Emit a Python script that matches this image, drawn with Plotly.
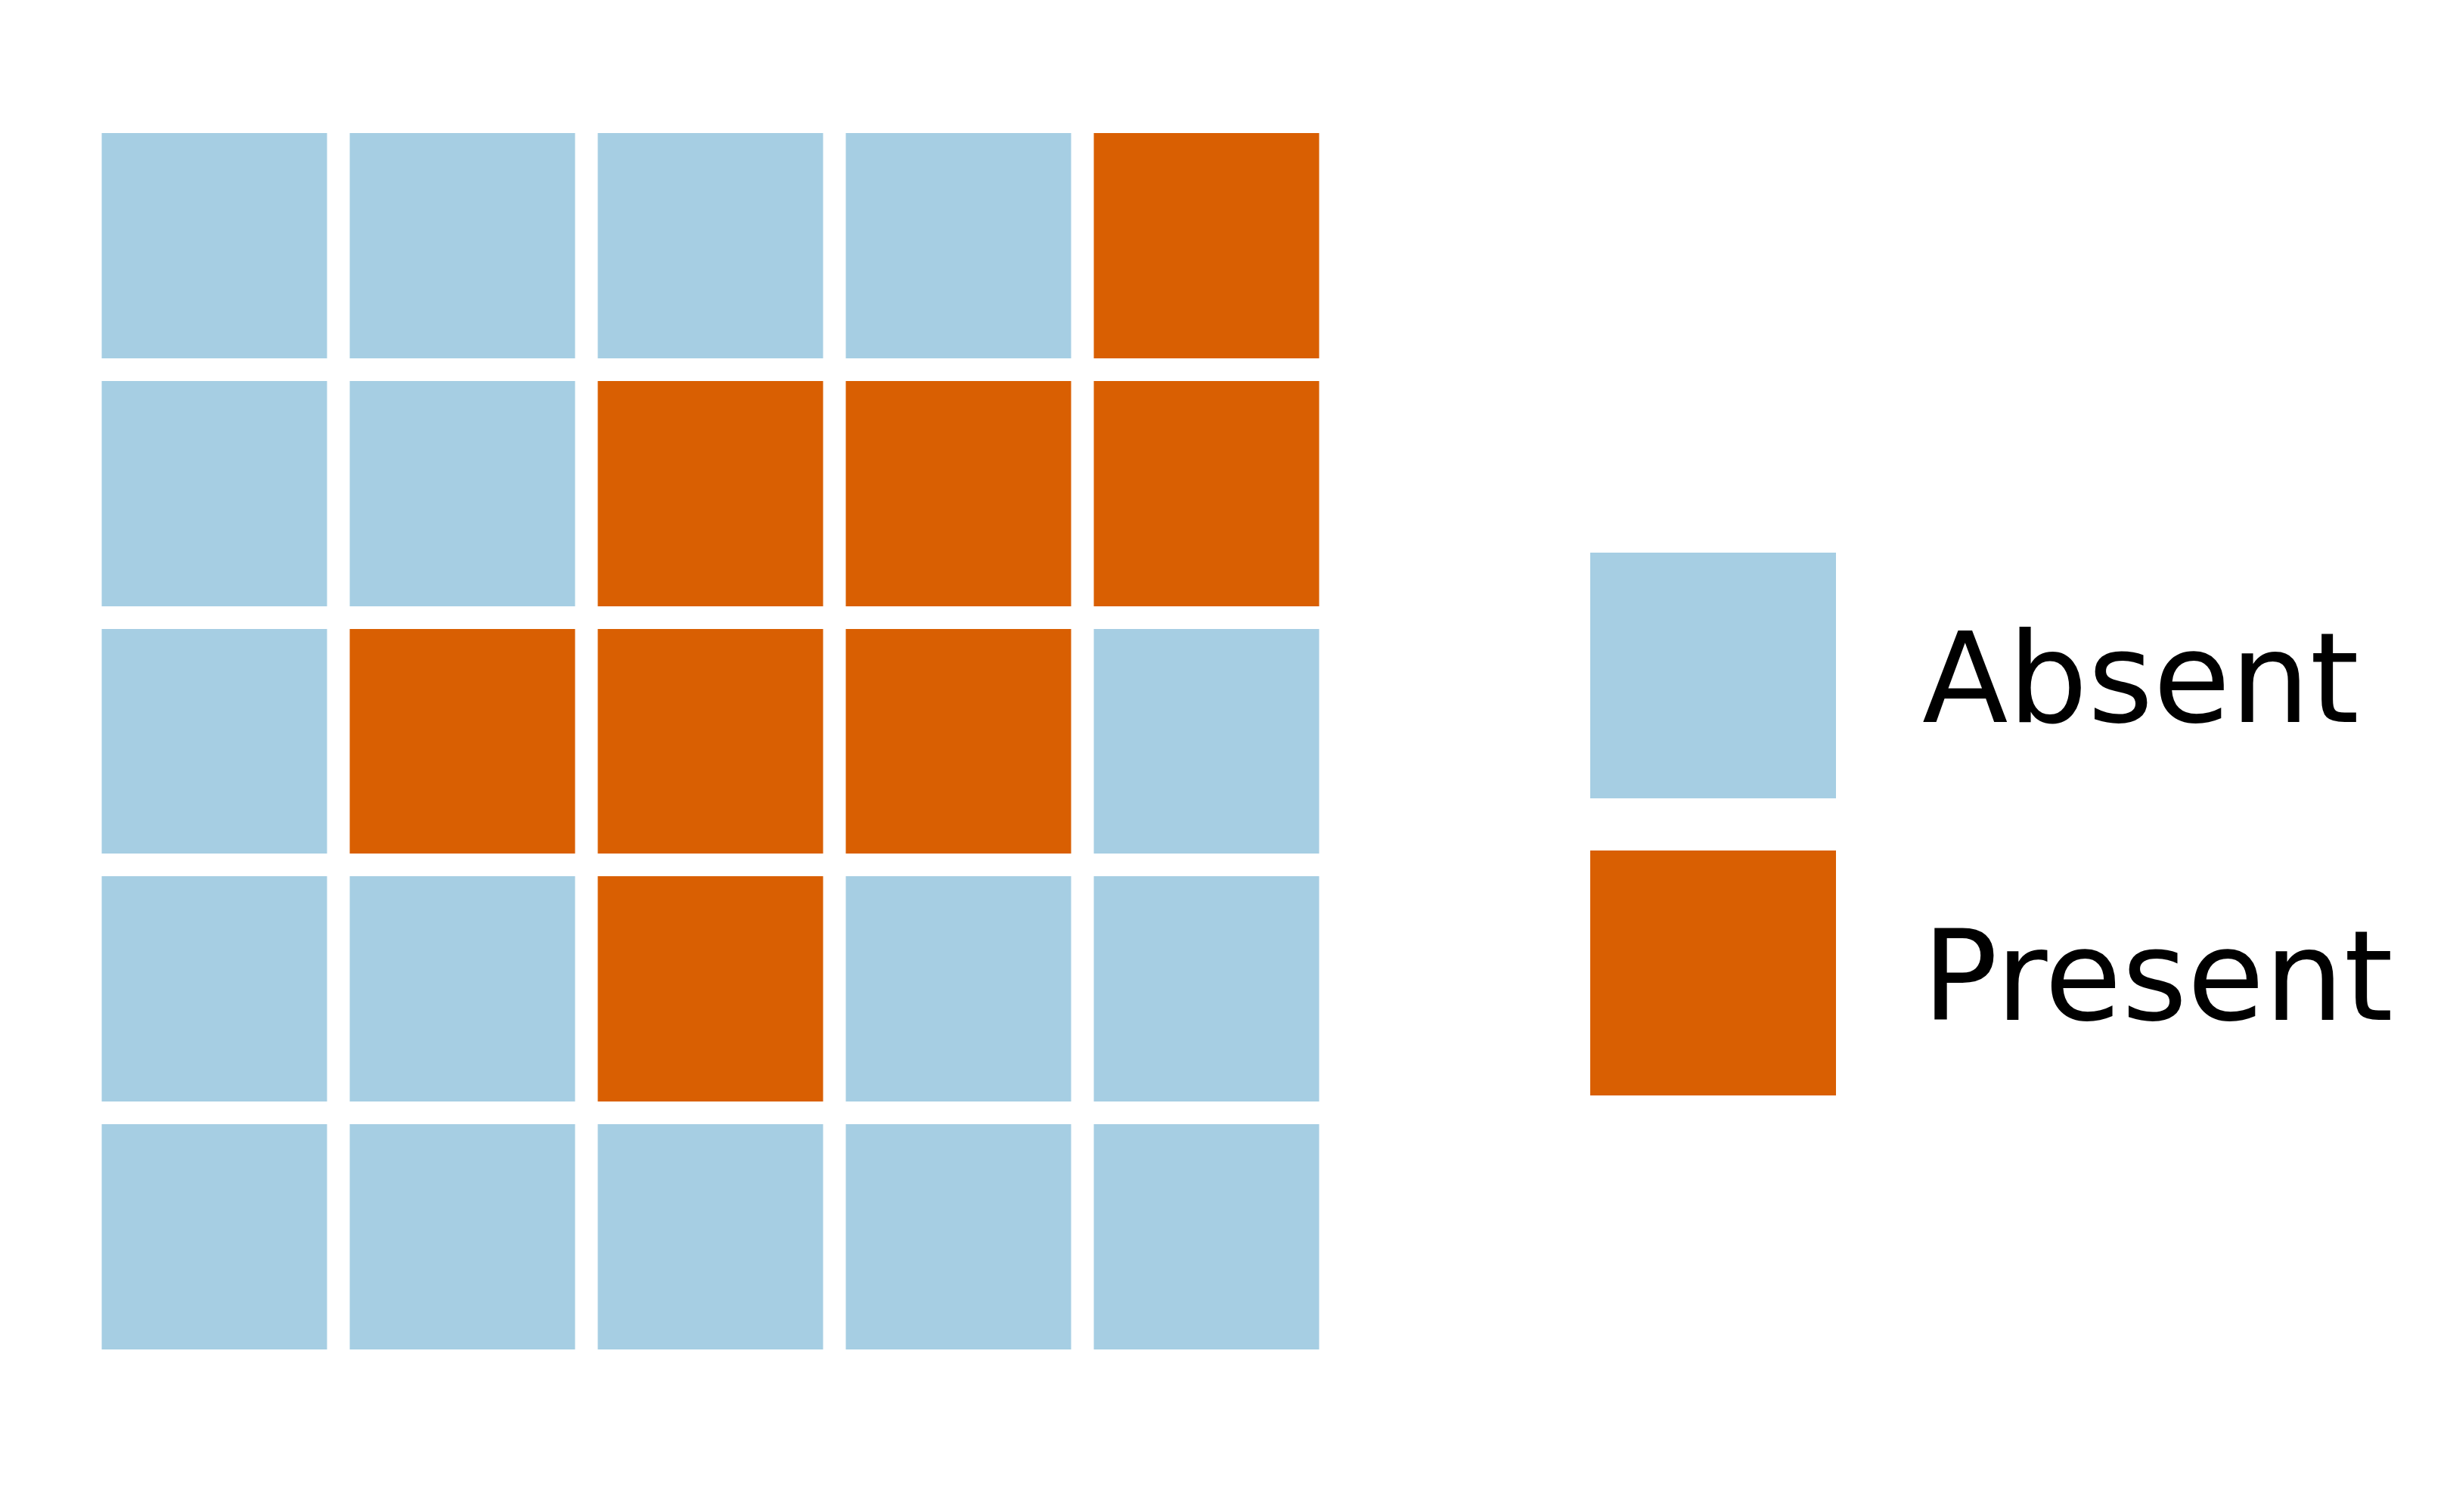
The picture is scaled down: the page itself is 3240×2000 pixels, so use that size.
import plotly.graph_objects as go

# Data
categories = ["Absent", "Present"]
colors = ["#a6cee3", "#d95f02"]
grid_rows = [
    [0, 0, 0, 0, 1],
    [0, 0, 1, 1, 1],
    [0, 1, 1, 1, 0],
    [0, 0, 1, 0, 0],
    [0, 0, 0, 0, 0],
]
legend_values = [[0], [1]]

W, H = 3240, 2000
colorscale = [[0, colors[0]], [0.5, colors[0]], [0.5, colors[1]], [1, colors[1]]]

fig = go.Figure()
fig.add_trace(go.Heatmap(
    z=grid_rows, x=list(range(5)), y=list(range(5)),
    colorscale=colorscale, zmin=0, zmax=1, showscale=False,
    xgap=30, ygap=30, hoverinfo="skip",
    xaxis="x", yaxis="y",
))
fig.add_trace(go.Heatmap(
    z=legend_values, x=[0], y=[0, 1],
    colorscale=colorscale, zmin=0, zmax=1, showscale=False,
    xgap=0, ygap=69, hoverinfo="skip",
    xaxis="x2", yaxis="y2",
))

ax_common = dict(showgrid=False, zeroline=False, showticklabels=False,
                 ticks="", showline=False, fixedrange=True)

fig.update_layout(
    width=W, height=H,
    margin=dict(l=0, r=0, t=0, b=0),
    paper_bgcolor="white", plot_bgcolor="white",
    showlegend=False,
    xaxis=dict(domain=[119.5 / W, 1759.5 / W], range=[-0.5, 4.5], **ax_common),
    yaxis=dict(domain=[1 - 1800 / H, 1 - 161 / H], range=[4.5, -0.5], **ax_common),
    xaxis2=dict(domain=[2103 / W, 2428 / W], range=[-0.5, 0.5], anchor="y2", **ax_common),
    yaxis2=dict(domain=[1 - 1484 / H, 1 - 697 / H], range=[1.5, -0.5], anchor="x2", **ax_common),
)

label_centers = [897.5, 1291.5]
for cat, yc in zip(categories, label_centers):
    fig.add_annotation(
        text=cat, xref="paper", yref="paper",
        x=2540 / W, y=1 - yc / H, xanchor="left", yanchor="middle",
        showarrow=False,
        font=dict(family="DejaVu Sans", size=166, color="black"),
    )

fig.write_html("out.html")
